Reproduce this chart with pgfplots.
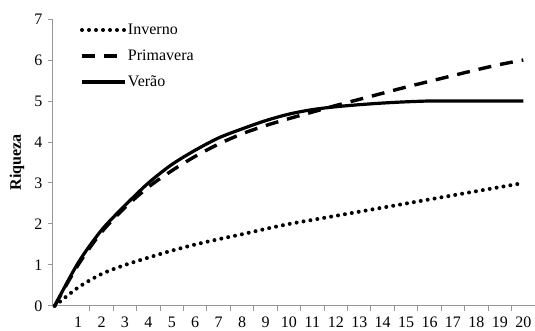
\documentclass[border=0pt]{standalone}
\usepackage{fontspec}
\setmainfont{Liberation Serif}
\usepackage{pgfplots}
\pgfplotsset{compat=1.18}
\definecolor{axgray}{RGB}{150,150,150}
\begin{document}
\fontsize{16}{19}\selectfont
\begin{tikzpicture}
\begin{axis}[
  at={(0,0)}, anchor=south west,
  scale only axis, width=482pt, height=287pt,
  xmin=-0.07, xmax=20.5, ymin=0, ymax=7,
  axis x line*=bottom, axis y line*=left,
  axis line style={axgray, line width=1pt, -},
  xtick={1,...,20}, ytick={0,...,7},
  minor xtick={1.5,2.5,...,19.5},
  tick align=outside,
  major tick length=5pt, minor tick length=5pt,
  every major x tick/.style={draw=none},
  every minor x tick/.style={axgray, line width=1pt},
  every major y tick/.style={axgray, line width=1pt},
  ticklabel style={font=\fontsize{16}{19}\selectfont, text=black},
  /pgf/number format/assume math mode=true,
  ylabel={\textbf{Riqueza}},
  every axis y label/.style={at={(axis description cs:0,0.5)}, xshift=-36pt, rotate=90, anchor=center, font=\fontsize{16}{19}\selectfont},
  legend style={draw=none, fill=none, inner sep=0pt, outer sep=0pt, row sep=8pt,
    at={(rel axis cs:0,1)}, anchor=north west, xshift=27pt, yshift=-2pt,
    nodes={inner sep=1pt, text height=12pt, text depth=4pt, font=\fontsize{16}{19}\selectfont}},
  legend cell align=left,
  legend image code/.code={\draw[#1] (0pt,0pt) -- (43pt,0pt);},
  clip=false,
]
\addplot[black, line width=4pt, line cap=round, dash pattern=on 0pt off 7pt, smooth] coordinates {
(0,0) (1,0.45) (2,0.78) (3,1.0) (4,1.18) (5,1.35) (6,1.5) (7,1.63) (8,1.75) (9,1.88) (10,2.0)
(11,2.1) (12,2.2) (13,2.3) (14,2.4) (15,2.5) (16,2.6) (17,2.7) (18,2.8) (19,2.9) (20,3.0)};
\addlegendentry{Inverno}
\addplot[black, line width=3.4pt, dash pattern=on 13pt off 9pt, smooth] coordinates {
(0,0) (1,1.0) (2,1.8) (3,2.4) (4,2.9) (5,3.3) (6,3.65) (7,3.95) (8,4.2) (9,4.4) (10,4.57)
(11,4.73) (12,4.89) (13,5.04) (14,5.19) (15,5.34) (16,5.48) (17,5.62) (18,5.76) (19,5.89) (20,6.0)};
\addlegendentry{Primavera}
\addplot[black, line width=3.2pt, smooth] coordinates {
(0,0) (1,1.05) (2,1.85) (3,2.45) (4,3.0) (5,3.45) (6,3.8) (7,4.1) (8,4.32) (9,4.52) (10,4.68)
(11,4.79) (12,4.86) (13,4.91) (14,4.95) (15,4.98) (16,5.0) (17,5.0) (18,5.0) (19,5.0) (20,5.0)};
\addlegendentry{Verão}
\end{axis}
\pgfresetboundingbox
\path[use as bounding box] (-53pt,-25pt) rectangle (482pt,306pt);
\end{tikzpicture}
\end{document}
